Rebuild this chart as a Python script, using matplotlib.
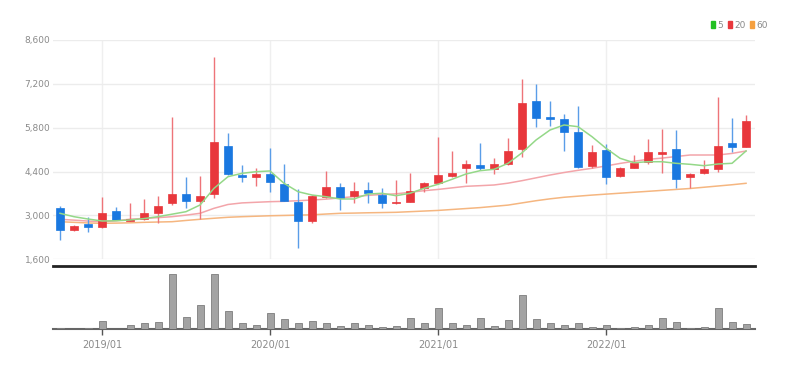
import matplotlib
matplotlib.use("Agg")
import matplotlib.pyplot as plt
from matplotlib.patches import Patch
import numpy as np
import pandas as pd

months = [p.strftime("%Y/%m") for p in pd.period_range("2018-10", "2022-11", freq="M")]

opens = [3228, 2535, 2717, 2621, 3151, 2823, 2886, 3087, 3388, 3684,
         3470, 3684, 5217, 4291, 4217, 4323, 4004, 3439, 2832, 3598,
         3917, 3630, 3812, 3652, 3388, 3439, 3866, 4026, 4259, 4505,
         4610, 4473, 4632, 5121, 6653, 6152, 6078, 5673, 4588, 5089,
         4259, 4524, 4715, 4961, 5121, 4237, 4345, 4473, 5303, 5194]
highs = [3301, 2700, 2941, 3598, 3260, 3388, 3525, 3630, 6133, 4217,
         4268, 8048, 5622, 4610, 4524, 5143, 4642, 3834, 3650, 4428,
         4045, 4077, 4077, 3866, 4131, 4364, 4077, 5494, 5057, 4770,
         5303, 4843, 5462, 7346, 7196, 6653, 6228, 6493, 5248, 5280,
         4540, 4929, 5430, 5750, 5727, 4350, 4770, 6771, 6120, 6206]
lows = [2216, 2500, 2481, 2590, 2840, 2820, 2855, 2749, 3333, 3228,
        2877, 3547, 4290, 4077, 3949, 3758, 3450, 1951, 2749, 3550,
        3174, 3388, 3388, 3228, 3370, 3420, 3758, 3990, 4230, 4026,
        4460, 4323, 4600, 4856, 5833, 5855, 5066, 4505, 4505, 3994,
        4230, 4500, 4642, 4364, 3866, 3866, 4320, 4377, 5035, 5170]
closes = [2535, 2673, 2621, 3087, 2855, 2886, 3087, 3301, 3684, 3470,
          3630, 5354, 4313, 4237, 4323, 4077, 3470, 2832, 3621, 3917,
          3547, 3780, 3707, 3388, 3439, 3790, 4026, 4291, 4345, 4642,
          4505, 4642, 5057, 6599, 6120, 6088, 5673, 4556, 5035, 4237,
          4505, 4683, 5035, 5035, 4154, 4323, 4473, 5226, 5194, 6014]

ma5 = [3068, 2960, 2886, 2823, 2830, 2855, 2900, 2960, 3040, 3120,
       3333, 3866, 4237, 4345, 4396, 4420, 4026, 3758, 3652, 3598,
       3525, 3525, 3684, 3707, 3630, 3707, 3866, 3994, 4154, 4323,
       4428, 4473, 4664, 5000, 5408, 5727, 5887, 5833, 5513, 5143,
       4824, 4683, 4715, 4715, 4664, 4632, 4588, 4642, 4664, 5057]
ma20 = [2877, 2850, 2820, 2800, 2830, 2880, 2905, 2930, 2960, 3010,
        3068, 3228, 3350, 3400, 3420, 3439, 3450, 3470, 3493, 3520,
        3560, 3600, 3640, 3670, 3690, 3740, 3790, 3830, 3880, 3930,
        3950, 3972, 4030, 4110, 4200, 4290, 4370, 4440, 4505, 4580,
        4660, 4730, 4790, 4830, 4880, 4929, 4929, 4930, 4980, 5057]
ma60 = [2800, 2780, 2760, 2749, 2755, 2765, 2780, 2790, 2800, 2840,
        2877, 2910, 2941, 2960, 2975, 2990, 3000, 3010, 3020, 3045,
        3068, 3075, 3085, 3092, 3100, 3120, 3140, 3160, 3190, 3220,
        3250, 3290, 3330, 3400, 3470, 3530, 3580, 3615, 3650, 3680,
        3710, 3740, 3770, 3800, 3830, 3860, 3900, 3940, 3980, 4026]
volume = [15, 5, 10, 80, 7, 40, 60, 73, 553, 127,
          243, 553, 183, 60, 40, 160, 100, 67, 80, 60,
          30, 60, 43, 23, 30, 110, 67, 217, 63, 40,
          113, 30, 93, 347, 107, 63, 40, 60, 23, 43,
          13, 23, 40, 113, 77, 10, 27, 217, 77, 50]

year_ticks = ["2019/01", "2020/01", "2021/01", "2022/01"]
price_ticks = [1600, 3000, 4400, 5800, 7200, 8600]

RED = "#e8373c"
BLUE = "#1a78e0"
RED_W = "#ee7479"
BLUE_W = "#5a9de8"
GRAY_TXT = "#8a8a8a"
FAM = ["Liberation Sans Narrow", "DejaVu Sans"]

W, H = 789, 370
fig = plt.figure(figsize=(W / 100, H / 100), dpi=100)
fig.patch.set_facecolor("white")

def frac_box(x0, y0, x1, y1):
    return [x0 / W, 1 - y1 / H, (x1 - x0) / W, (y1 - y0) / H]

ax = fig.add_axes(frac_box(53, 40, 755, 259.3))
axv = fig.add_axes(frac_box(53, 266, 755, 329.3), sharex=ax)

x = np.arange(len(months))
o = np.array(opens); c = np.array(closes)
h = np.array(highs); l = np.array(lows)
up = c >= o
cols = np.where(up, RED, BLUE)
wcols = np.where(up, RED_W, BLUE_W)
bottoms = np.minimum(o, c)
heights = np.maximum(np.abs(c - o), 40)

ax.vlines(x, l, h, colors=wcols, linewidth=1.0, zorder=3)
ax.bar(x, heights, bottom=bottoms, width=0.52, color=cols, edgecolor=cols, linewidth=0.5, zorder=4)

ax.plot(x, ma60, color="#f5b680", lw=1.1, zorder=2)
ax.plot(x, ma20, color="#f3a5aa", lw=1.1, zorder=2)
ax.plot(x, ma5, color="#94d888", lw=1.1, zorder=5)

ax.set_ylim(1600, 8600)
ax.set_yticks(price_ticks)
ax.set_yticklabels([f"{v:,}" for v in price_ticks])
ax.set_xlim(-0.5, 49.64)
ax.grid(axis="y", color="#ececec", lw=1)
tick_pos = [months.index(t) for t in year_ticks]
for tp in tick_pos:
    ax.axvline(tp, color="#efefef", lw=1, zorder=0)
for s in ax.spines.values():
    s.set_visible(False)
ax.tick_params(axis="y", length=0, pad=2, labelsize=6.5, labelcolor=GRAY_TXT)
ax.tick_params(axis="x", length=0, labelbottom=False)
for t in ax.get_yticklabels():
    t.set_family(FAM)

axv.bar(x, volume, width=0.5, color="#a3a3a3", edgecolor="#7d7d7d", linewidth=0.6, zorder=3)
axv.set_ylim(0, 633)
axv.set_yticks([])
for s in ["left", "right"]:
    axv.spines[s].set_visible(False)
axv.spines["top"].set_color("#222222")
axv.spines["top"].set_linewidth(2)
axv.spines["bottom"].set_color("#666666")
axv.spines["bottom"].set_linewidth(1.5)
axv.set_xticks(tick_pos)
axv.set_xticklabels(year_ticks)
axv.tick_params(axis="x", length=4, width=1, color="#555555", pad=4, labelsize=7, labelcolor=GRAY_TXT)
for t in axv.get_xticklabels():
    t.set_family(FAM)

handles = [Patch(color="#22c022", label="5"), Patch(color="#e8373c", label="20"), Patch(color="#f5a040", label="60")]
leg = fig.legend(handles=handles, loc="center right", bbox_to_anchor=(776 / W, 1 - 25 / H), ncol=3,
                 frameon=False, handlelength=0.45, handleheight=0.9, handletextpad=0.25, columnspacing=0.5,
                 prop={"family": FAM, "size": 6.5})
for t in leg.get_texts():
    t.set_color(GRAY_TXT)

fig.savefig("out.png", dpi=100)
